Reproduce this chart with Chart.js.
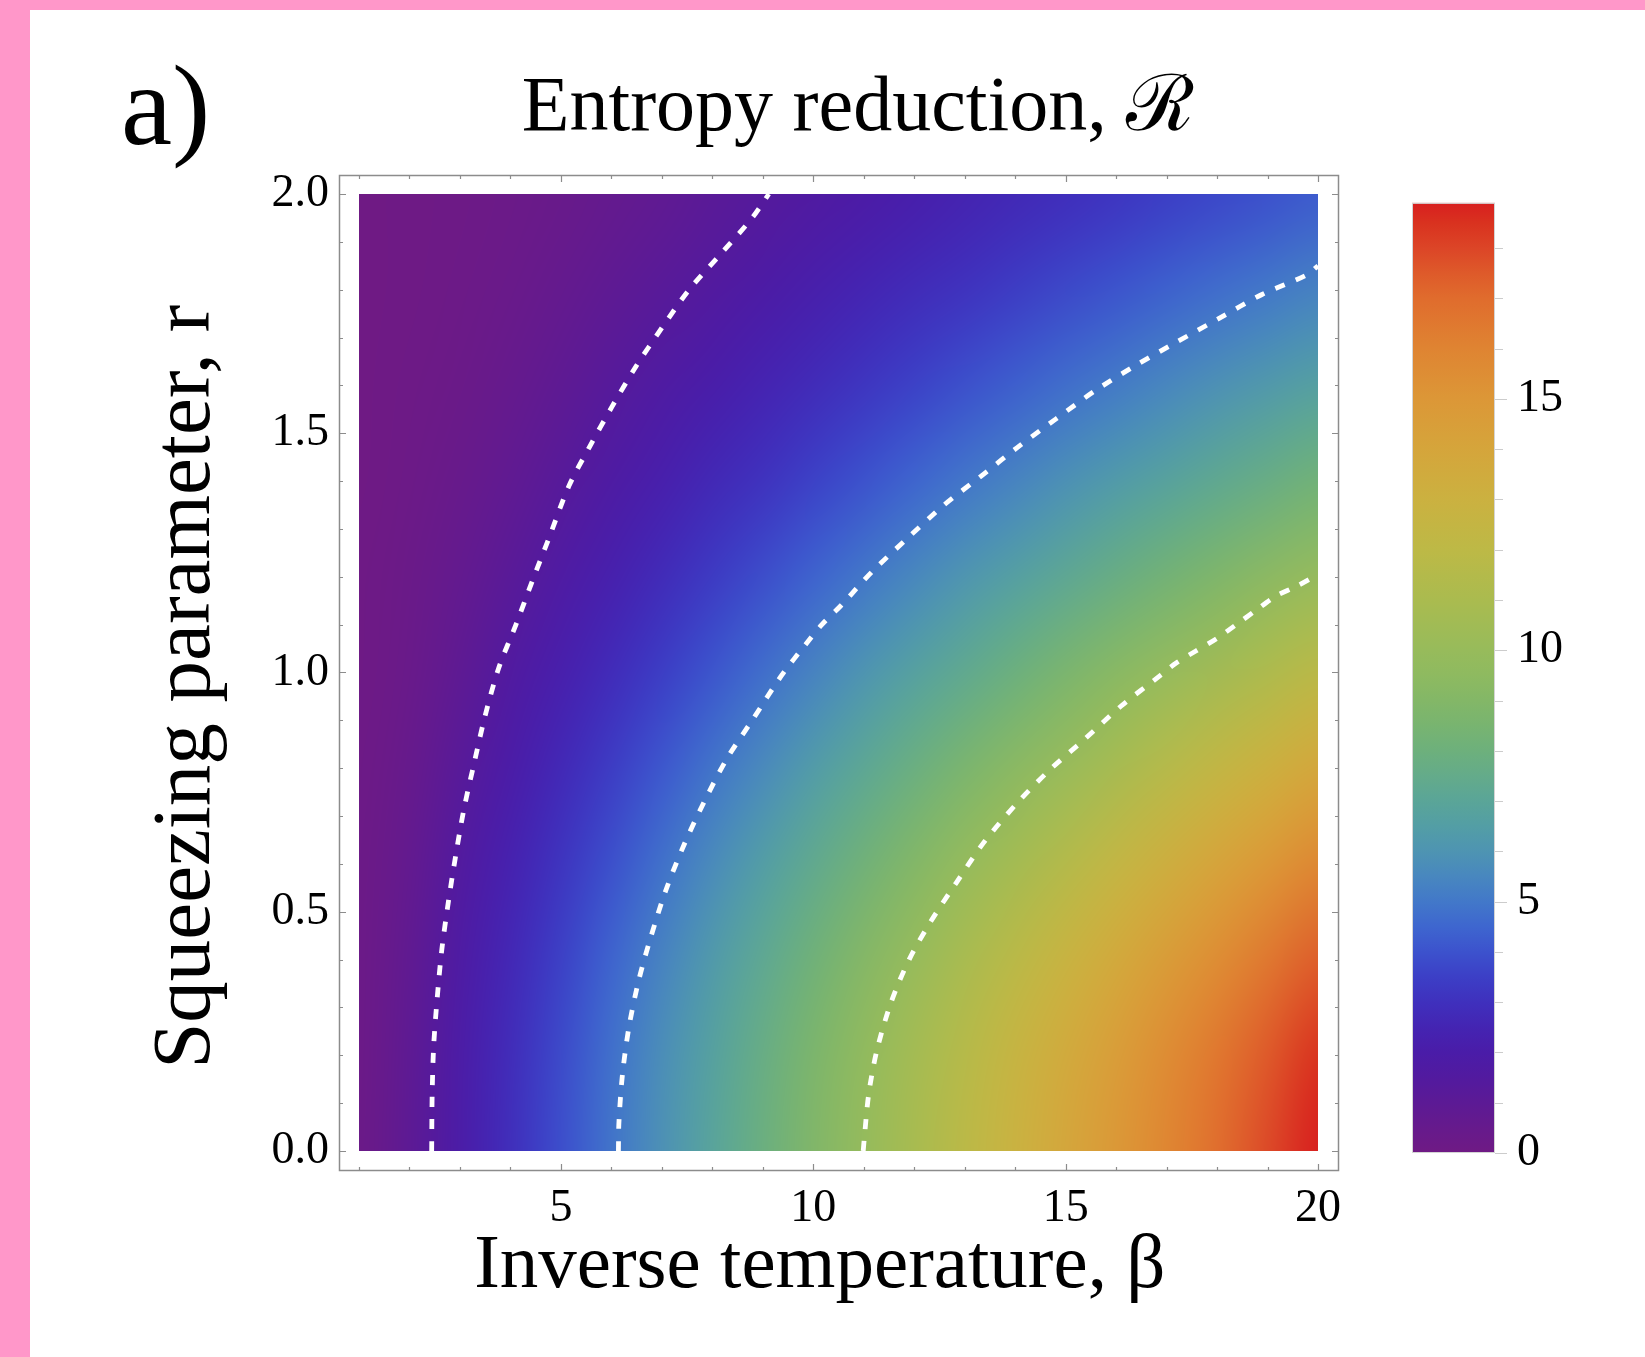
<!DOCTYPE html>
<html><head><meta charset="utf-8">
<script src="https://cdn.jsdelivr.net/npm/chart.js@4.4.1/dist/chart.umd.min.js"></script>
<style>
html,body{margin:0;padding:0;overflow:hidden;background:#ff97c9;width:1645px;height:1357px}
#panel{position:absolute;left:30px;top:10px;width:1615px;height:1347px;background:#fff}
#lab{position:absolute;left:121px;top:48px;font-family:'Liberation Serif',serif;font-size:115px;line-height:1;color:#000}
#wrap{position:absolute;left:0;top:0;width:1645px;height:1357px}
</style></head><body>
<div id="panel"></div>
<div id="lab">a)</div>
<div id="wrap"><canvas id="c"></canvas></div>
<script>
// ---- grid of the heat map ----
const betaGrid = [1,2,3,4,5,6,7,8,9,10,11,12,13,14,15,16,17,18,19,20];
const rGrid = [0,0.2,0.4,0.6,0.8,1.0,1.2,1.4,1.6,1.8,2.0];
const heatR00 = [0.20,0.95,1.95,2.90,3.90,4.90,5.90,6.90,7.90,8.90,9.90,10.90,11.90,12.90,13.90,14.90,15.90,16.90,17.90,18.90];
const heatR02 = [0.19,0.91,1.89,2.83,3.80,4.78,5.76,6.74,7.72,8.70,9.68,10.66,11.64,12.62,13.60,14.58,15.57,16.55,17.53,18.51];
const heatR04 = [0.17,0.80,1.73,2.64,3.53,4.45,5.38,6.30,7.23,8.15,9.08,10.00,10.93,11.85,12.78,13.70,14.63,15.55,16.48,17.40];
const heatR06 = [0.14,0.67,1.48,2.33,3.12,3.96,4.80,5.65,6.49,7.34,8.18,9.02,9.87,10.71,11.55,12.40,13.24,14.08,14.93,15.77];
const heatR08 = [0.10,0.50,1.19,1.94,2.67,3.39,4.13,4.88,5.63,6.38,7.13,7.87,8.62,9.37,10.12,10.86,11.61,12.36,13.11,13.85];
const heatR10 = [0.07,0.36,0.90,1.54,2.19,2.80,3.44,4.08,4.73,5.38,6.03,6.68,7.32,7.97,8.62,9.27,9.92,10.56,11.21,11.86];
const heatR12 = [0.04,0.25,0.64,1.16,1.71,2.26,2.78,3.32,3.87,4.42,4.98,5.53,6.08,6.63,7.18,7.74,8.29,8.84,9.39,9.95];
const heatR14 = [0.02,0.17,0.43,0.82,1.27,1.74,2.20,2.65,3.08,3.55,4.01,4.48,4.94,5.41,5.87,6.34,6.80,7.27,7.73,8.20];
const heatR16 = [0.01,0.11,0.28,0.55,0.90,1.28,1.67,2.05,2.44,2.79,3.17,3.56,3.94,4.33,4.72,5.11,5.50,5.88,6.27,6.66];
const heatR18 = [0.01,0.07,0.19,0.36,0.60,0.89,1.20,1.52,1.85,2.17,2.49,2.78,3.08,3.41,3.73,4.05,4.37,4.69,5.01,5.34];
const heatR20 = [0.00,0.04,0.12,0.23,0.38,0.59,0.82,1.08,1.34,1.61,1.87,2.14,2.41,2.65,2.89,3.15,3.42,3.68,3.95,4.22];

// ---- dashed contour lines ----
const contour1Beta = [2.44,2.45,2.48,2.55,2.64,2.77,2.92,3.08,3.28,3.50,3.77,4.11,4.43,4.76,5.16,5.56,6.01,6.49,7.00,7.54,8.17,8.79,9.12];
const contour1R    = [0.00,0.12,0.22,0.32,0.42,0.52,0.62,0.715,0.81,0.91,1.01,1.10,1.19,1.28,1.39,1.47,1.555,1.64,1.72,1.80,1.875,1.95,2.00];
const contour2Beta = [6.14,6.15,6.22,6.35,6.55,6.79,7.08,7.44,7.84,8.29,8.79,9.38,9.86,10.17,10.55,11.16,11.86,12.59,13.32,14.04,14.81,15.60,16.36,17.19,18.04,18.89,19.76,20.00];
const contour2R    = [0.00,0.06,0.16,0.26,0.36,0.45,0.545,0.64,0.73,0.82,0.90,0.995,1.06,1.10,1.14,1.21,1.28,1.35,1.41,1.47,1.53,1.59,1.64,1.69,1.74,1.79,1.83,1.85];
const contour3Beta = [10.99,11.01,11.10,11.26,11.54,11.90,12.33,12.83,13.38,14.02,14.67,15.37,16.10,16.89,17.19,17.58,17.98,18.38,18.77,19.17,19.57,20.00];
const contour3R    = [0.00,0.025,0.12,0.21,0.31,0.40,0.48,0.56,0.645,0.725,0.795,0.86,0.93,0.995,1.02,1.045,1.07,1.10,1.13,1.16,1.18,1.205];

// ---- ticks ----
const xTickLabels = [5,10,15,20];
const yTickLabels = [0,0.5,1.0,1.5,2.0];
const cbTickLabels = [0,5,10,15];
const cbMaxValue = 18.9;

// ---- colour scale (Mathematica-like "Rainbow") ----
const cmapVals = [0,0.5,1,1.5,2,2.5,3,3.5,4,4.5,5,5.5,6,6.5,7,7.5,8,8.5,9,9.5,10,11,12,13,14,15,16,17,17.5,18,18.5,18.9];
const cmapCols = ['#6f1a84','#661a8c','#5c1a95','#521a9f','#4a1ca8','#4424b2','#3f30bd','#3c3fc6','#3c52cd','#3e66cf','#4278c9','#4887bf','#4e94b2','#539ea5','#5aa598','#64ab8a','#6db07c','#78b470','#83b767','#8eba60','#97bb5b','#aabb4f','#bdb946','#cbb140','#d5a53b','#dc9737','#df8432','#e06c2d','#de5a2a','#dc4527','#d9321f','#d81f1f'];

const heatRows = [heatR00,heatR02,heatR04,heatR06,heatR08,heatR10,heatR12,heatR14,heatR16,heatR18,heatR20];

function hexRgb(h){return [parseInt(h.slice(1,3),16),parseInt(h.slice(3,5),16),parseInt(h.slice(5,7),16)];}
const cmapRgb = cmapCols.map(hexRgb);
function colorFor(v){
  if (v <= cmapVals[0]) return cmapRgb[0];
  for (let i=1;i<cmapVals.length;i++){
    if (v <= cmapVals[i]){
      const t=(v-cmapVals[i-1])/(cmapVals[i]-cmapVals[i-1]);
      const a=cmapRgb[i-1], b=cmapRgb[i];
      return [a[0]+(b[0]-a[0])*t, a[1]+(b[1]-a[1])*t, a[2]+(b[2]-a[2])*t];
    }
  }
  return cmapRgb[cmapRgb.length-1];
}

const serif = "'Liberation Serif','DejaVu Serif',serif";

const heatPlugin = {
  id:'heat',
  beforeDatasetsDraw(chart){
    const {ctx, scales:{x,y}} = chart;
    const nC=betaGrid.length, nR=rGrid.length;
    const off=document.createElement('canvas'); off.width=nC; off.height=nR;
    const octx=off.getContext('2d');
    const img=octx.createImageData(nC,nR);
    for (let j=0;j<nR;j++){
      const row=heatRows[nR-1-j];
      for (let i=0;i<nC;i++){
        const c=colorFor(row[i]); const k=(j*nC+i)*4;
        img.data[k]=c[0]; img.data[k+1]=c[1]; img.data[k+2]=c[2]; img.data[k+3]=255;
      }
    }
    octx.putImageData(img,0,0);
    const dB=betaGrid[1]-betaGrid[0], dR=rGrid[1]-rGrid[0];
    const x0=x.getPixelForValue(betaGrid[0]-dB/2), x1=x.getPixelForValue(betaGrid[nC-1]+dB/2);
    const yT=y.getPixelForValue(rGrid[nR-1]+dR/2), yB=y.getPixelForValue(rGrid[0]-dR/2);
    const cl=x.getPixelForValue(betaGrid[0]), cr=x.getPixelForValue(betaGrid[nC-1]);
    const ct=y.getPixelForValue(rGrid[nR-1]), cb=y.getPixelForValue(rGrid[0]);
    ctx.save();
    ctx.beginPath(); ctx.rect(cl,ct,cr-cl,cb-ct); ctx.clip();
    ctx.imageSmoothingEnabled=true; ctx.imageSmoothingQuality='high';
    ctx.drawImage(off,x0,yT,x1-x0,yB-yT);
    ctx.restore();
  }
};

const framePlugin = {
  id:'frame',
  afterDraw(chart){
    const {ctx, chartArea:ca, scales:{x,y,cb}} = chart;
    ctx.save();
    ctx.strokeStyle='#8c8c8c'; ctx.lineWidth=1.5;
    ctx.strokeRect(Math.round(ca.left)+0.5, Math.round(ca.top)+0.5, Math.round(ca.right-ca.left)-1, Math.round(ca.bottom-ca.top)-1);
    ctx.lineWidth=1.2;
    ctx.beginPath();
    for (let b=1;b<=20;b++){
      const px=Math.round(x.getPixelForValue(b))+0.5; const L=(b%5===0)?7:4;
      ctx.moveTo(px,ca.bottom); ctx.lineTo(px,ca.bottom-L);
      ctx.moveTo(px,ca.top); ctx.lineTo(px,ca.top+L);
    }
    for (let k=0;k<=20;k++){
      const py=Math.round(y.getPixelForValue(k/10))+0.5; const L=(k%5===0)?7:4;
      ctx.moveTo(ca.left,py); ctx.lineTo(ca.left+L,py);
      ctx.moveTo(ca.right,py); ctx.lineTo(ca.right-L,py);
    }
    ctx.stroke();
    // colour bar
    const bl=cb.left+73, br=cb.left+156;
    const bt=cb.getPixelForValue(cbMaxValue), bb=cb.getPixelForValue(0);
    const g=ctx.createLinearGradient(0,bb,0,bt);
    cmapVals.forEach((v,i)=>g.addColorStop(v/cbMaxValue,cmapCols[i]));
    ctx.fillStyle=g; ctx.fillRect(bl,bt,br-bl,bb-bt);
    ctx.strokeStyle='#d4d4d4'; ctx.lineWidth=1;
    ctx.strokeRect(bl+0.5,bt+0.5,br-bl-1,bb-bt-1);
    ctx.strokeStyle='#cccccc'; ctx.lineWidth=1.2;
    ctx.beginPath();
    for (let v=0; v<=18; v++){
      const py=Math.round(cb.getPixelForValue(v))+0.5; const L=(v%5===0)?12:8;
      ctx.moveTo(br,py); ctx.lineTo(br+L,py);
    }
    ctx.stroke();
    ctx.restore();
  }
};

function pts(bs,rs){return bs.map((b,i)=>({x:b,y:rs[i]}));}
const lineStyle = {showLine:true, borderColor:'#ffffff', borderWidth:4.8, borderDash:[10,12], borderCapStyle:'butt', pointRadius:0, tension:0.3, fill:false};

const tickFont = {family:serif, size:46};
const titleFont = {family:serif, size:78, weight:'normal'};
const xTitleFont = {family:serif, size:77, weight:'normal'};
const yTitleFont = {family:serif, size:83, weight:'normal'};

new Chart(document.getElementById('c'), {
  type:'scatter',
  data:{datasets:[
    Object.assign({label:'contour 1', data:pts(contour1Beta,contour1R)}, lineStyle),
    Object.assign({label:'contour 2', data:pts(contour2Beta,contour2R)}, lineStyle),
    Object.assign({label:'contour 3', data:pts(contour3Beta,contour3R)}, lineStyle)
  ]},
  options:{
    responsive:true, maintainAspectRatio:false, animation:false,
    layout:{padding:{left:71, top:10, right:0, bottom:0}},
    plugins:{
      legend:{display:false}, tooltip:{enabled:false},
      title:{display:true, text:'Entropy reduction, \u211B', color:'#000', font:titleFont, padding:{top:53,bottom:18.4}}
    },
    scales:{
      x:{type:'linear', position:'bottom', min:0.604, max:20.416,
         afterBuildTicks:s=>{s.ticks=xTickLabels.map(v=>({value:v}));},
         afterFit:s=>{s.height=186;},
         ticks:{font:tickFont, color:'#000', padding:10, autoSkip:false, maxRotation:0, callback:v=>String(v)},
         grid:{display:false, drawTicks:false}, border:{display:false},
         title:{display:true, text:'Inverse temperature, \u03B2\u2002', color:'#000', font:xTitleFont, padding:{top:0,bottom:44}}},
      y:{type:'linear', position:'left', min:-0.0418, max:2.0397,
         afterBuildTicks:s=>{s.ticks=yTickLabels.map(v=>({value:v}));},
         afterFit:s=>{s.width=268; s.paddingTop=0; s.paddingBottom=0;},
         ticks:{font:tickFont, color:'#000', padding:10, autoSkip:false, callback:v=>Number(v).toFixed(1)},
         grid:{display:false, drawTicks:false}, border:{display:false},
         title:{display:true, text:'Squeezing parameter, r\u2004', color:'#000', font:yTitleFont, padding:{top:66,bottom:0}}},
      cb:{type:'linear', position:'right', min:-0.358, max:19.455,
         afterBuildTicks:s=>{s.ticks=cbTickLabels.map(v=>({value:v}));},
         afterFit:s=>{s.width=306; s.paddingTop=0; s.paddingBottom=0;},
         ticks:{font:tickFont, color:'#000', padding:178, autoSkip:false, callback:v=>String(v)},
         grid:{display:false, drawTicks:false}, border:{display:false}}
    }
  },
  plugins:[heatPlugin, framePlugin]
});
</script>
</body></html>
